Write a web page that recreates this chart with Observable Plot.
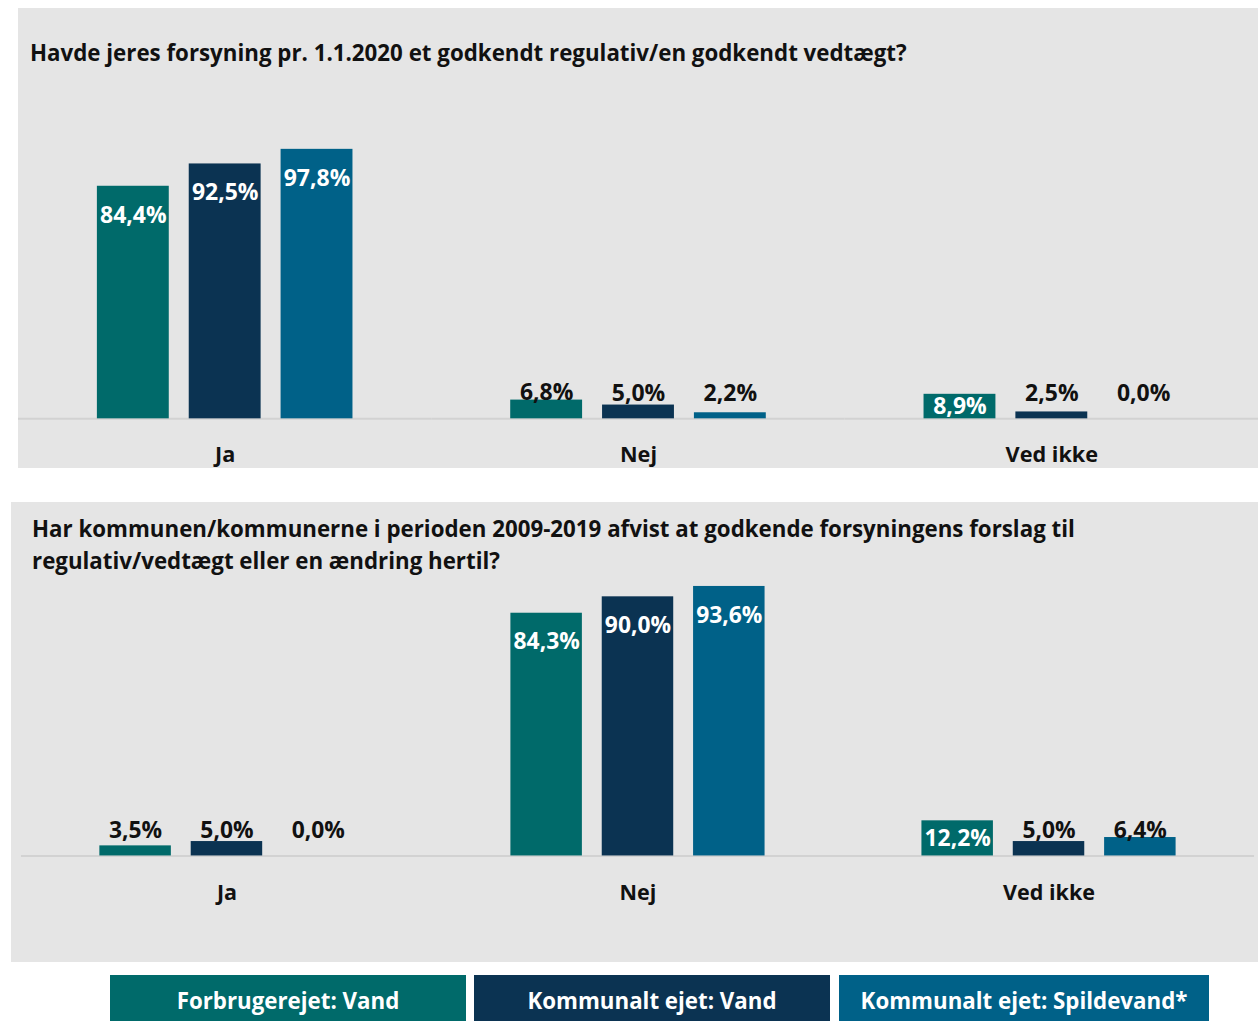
<!DOCTYPE html>
<html>
<head>
<meta charset="utf-8">
<script src="https://cdn.jsdelivr.net/npm/d3@7"></script>
<script src="https://cdn.jsdelivr.net/npm/@observablehq/plot@0.6"></script>
<style>
  html, body { margin: 0; padding: 0; background: #ffffff; width: 1258px; height: 1021px; overflow: hidden; }
  body { position: relative; font-family: "Open Sans", sans-serif; color: #111; }
  .panel { position: absolute; background: #e5e5e5; overflow: hidden; height: 460px; }
  .panel svg { position: absolute; left: 0; top: 0; }
  .title { position: absolute; font-weight: bold; font-size: 22.3px; line-height: 32px; white-space: nowrap; z-index: 2; color: #111; }
  .legend { position: absolute; top: 975px; height: 46px; box-sizing: border-box; padding-top: 4px; color: #fff; font-weight: bold; font-size: 22.3px; display: flex; align-items: center; justify-content: center; }
</style>
</head>
<body>
<div id="p1" class="panel" style="left:18px; top:8px; width:1240px;"></div>
<div id="p2" class="panel" style="left:11px; top:502px; width:1247px;"></div>
<div id="legend"></div>
<script>
const FONT = "'Open Sans', sans-serif";
const categories = ["Ja", "Nej", "Ved ikke"];
const series = ["Forbrugerejet: Vand", "Kommunalt ejet: Vand", "Kommunalt ejet: Spildevand*"];
const colors = ["#006a6a", "#0b3352", "#006188"];

const title1 = ["Havde jeres forsyning pr. 1.1.2020 et godkendt regulativ/en godkendt vedtægt?"];
const title2 = ["Har kommunen/kommunerne i perioden 2009-2019 afvist at godkende forsyningens forslag til",
                "regulativ/vedtægt eller en ændring hertil?"];

// values [category][series] in %
const q1Ja = [84.4, 92.5, 97.8];
const q1Nej = [6.8, 5.0, 2.2];
const q1VedIkke = [8.9, 2.5, 0.0];
const q2Ja = [3.5, 5.0, 0.0];
const q2Nej = [84.3, 90.0, 93.6];
const q2VedIkke = [12.2, 5.0, 6.4];

const fmt = d => d.value.toFixed(1).replace(".", ",") + "%";

function chart(values, opts) {
  const data = categories.flatMap((c, i) => series.map((s, j) => ({cat: c, series: s, value: values[i][j]})));
  const inside = data.filter(d => d.value >= 8);
  const outside = data.filter(d => d.value < 8);
  return Plot.plot({
    width: opts.width,
    height: opts.height,
    marginLeft: opts.marginLeft,
    marginRight: opts.marginRight,
    marginTop: opts.marginTop,
    marginBottom: opts.marginBottom,
    style: {background: "transparent", fontFamily: FONT, color: "#111", overflow: "visible"},
    fx: {domain: categories, padding: 0, axis: null},
    x: {domain: series, paddingInner: 0.2174, paddingOuter: 0.8587, axis: null},
    y: {domain: [0, 100], axis: null},
    color: {domain: series, range: colors},
    marks: [
      Plot.ruleY([0], {stroke: "#d2d2d2", strokeWidth: 2}),
      Plot.barY(data, {fx: "cat", x: "series", y: "value", fill: "series"}),
      Plot.text(inside, {fx: "cat", x: "series", y: d => d.value - Math.min(opts.offset, d.value / 2),
        text: fmt, fill: "white", fontSize: 23, fontWeight: "bold"}),
      Plot.text(outside, {fx: "cat", x: "series", y: d => Math.max(d.value, 6.3),
        text: fmt, fill: "#111", fontSize: 23, fontWeight: "bold", lineAnchor: "bottom"}),
      Plot.axisFx({anchor: "bottom", tickSize: 0, tickPadding: opts.catPad, fontSize: 21.7, fontWeight: "bold", label: null, fill: "#111"})
    ]
  });
}

function addTitle(panel, lines, left, top) {
  const t = document.createElement("div");
  t.className = "title";
  t.style.left = left + "px";
  t.style.top = top + "px";
  t.innerHTML = lines.join("<br>");
  panel.appendChild(t);
}

const p1 = document.getElementById("p1");
p1.appendChild(chart([q1Ja, q1Nej, q1VedIkke], {
  width: 1242, height: 460, marginLeft: 0, marginRight: 0, marginTop: 135, marginBottom: 49, offset: 10.5, catPad: 28
}));
addTitle(p1, title1, 12, 29);

const p2 = document.getElementById("p2");
p2.appendChild(chart([q2Ja, q2Nej, q2VedIkke], {
  width: 1256, height: 460, marginLeft: 9, marginRight: 3, marginTop: 66, marginBottom: 104, offset: 10, catPad: 29
}));
addTitle(p2, title2, 21, 11);

const legendBoxes = [{left: 110, width: 356}, {left: 474, width: 356}, {left: 839, width: 370}];
const legend = document.getElementById("legend");
series.forEach((s, i) => {
  const b = document.createElement("div");
  b.className = "legend";
  b.style.left = legendBoxes[i].left + "px";
  b.style.width = legendBoxes[i].width + "px";
  b.style.background = colors[i];
  b.textContent = s;
  legend.appendChild(b);
});
</script>
</body>
</html>
